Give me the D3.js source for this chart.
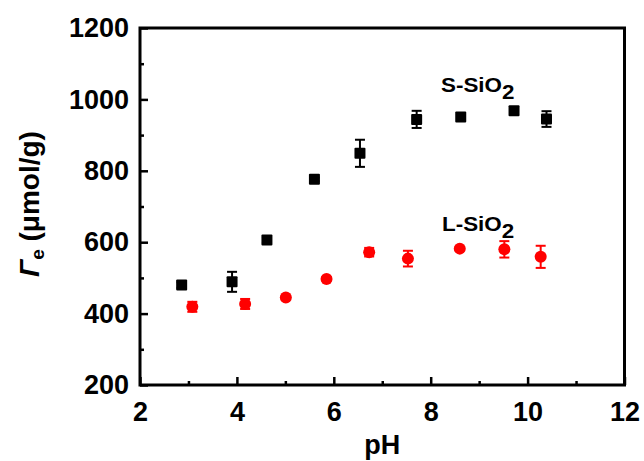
<!DOCTYPE html>
<html>
<head>
<meta charset="utf-8">
<script src="https://cdn.jsdelivr.net/npm/d3@7"></script>
<style>
  body { margin: 0; background: #fff; }
  svg { display: block; }
  text { font-family: "Liberation Sans", Arial, sans-serif; font-weight: bold; }
</style>
</head>
<body>
<svg id="chart" width="644" height="461"></svg>
<script>
// ---- data ----
const sPH   = [2.86, 3.90, 4.62, 5.60, 6.54, 7.71, 8.62, 9.72, 10.39];
const sVal  = [480, 489, 606, 776, 849, 944, 951, 968, 945];
const sErr  = [8, 28, 8, 5, 38, 24, 0, 10, 22];

const lPH   = [3.08, 4.17, 5.01, 5.85, 6.73, 7.53, 8.60, 9.52, 10.27];
const lVal  = [419, 427, 445, 497, 572, 554, 582, 580, 559];
const lErr  = [14, 14, 5, 5, 12, 22, 5, 23, 31];

const xTicks = [2, 4, 6, 8, 10, 12];
const yTicks = [200, 400, 600, 800, 1000, 1200];

// ---- layout ----
const svg = d3.select("#chart");
const L = 140, R = 624.5, T = 28, B = 385;
const x = d3.scaleLinear().domain([2, 12]).range([L, R]);
const y = d3.scaleLinear().domain([200, 1200]).range([B, T]);

// minor ticks
const g = svg.append("g");
g.append("g").attr("transform", `translate(0,${B})`)
  .call(d3.axisBottom(x).tickValues(d3.range(3, 12, 2)).tickSize(-4).tickFormat(""))
  .call(a => a.select(".domain").remove())
  .call(a => a.selectAll("line").attr("stroke", "#000").attr("stroke-width", 2.5));
g.append("g").attr("transform", `translate(${L},0)`)
  .call(d3.axisLeft(y).tickValues(d3.range(300, 1200, 200)).tickSize(-4).tickFormat(""))
  .call(a => a.select(".domain").remove())
  .call(a => a.selectAll("line").attr("stroke", "#000").attr("stroke-width", 2.5));

// major ticks
const xa = g.append("g").attr("transform", `translate(0,${B})`)
  .call(d3.axisBottom(x).tickValues(xTicks).tickSize(-8).tickPadding(17).tickFormat(d3.format("d")));
xa.select(".domain").remove();
xa.selectAll("line").attr("stroke", "#000").attr("stroke-width", 2.5);
xa.selectAll("text").attr("font-size", 27).attr("fill", "#000")
  .attr("font-family", '"Liberation Sans", Arial, sans-serif').attr("font-weight", "bold");

const ya = g.append("g").attr("transform", `translate(${L},0)`)
  .call(d3.axisLeft(y).tickValues(yTicks).tickSize(-8).tickPadding(11).tickFormat(d3.format("d")));
ya.select(".domain").remove();
ya.selectAll("line").attr("stroke", "#000").attr("stroke-width", 2.5);
ya.selectAll("text").attr("font-size", 27).attr("fill", "#000")
  .attr("font-family", '"Liberation Sans", Arial, sans-serif').attr("font-weight", "bold");

// frame
svg.append("rect").attr("x", L).attr("y", T).attr("width", R - L).attr("height", B - T)
  .attr("fill", "none").attr("stroke", "#000").attr("stroke-width", 3);

// series drawing
function series(ph, val, err, color, shape) {
  const data = ph.map((p, i) => ({p, v: val[i], e: err[i]}));
  const gg = svg.append("g");
  const eb = gg.selectAll("g.eb").data(data.filter(d => d.e > 0)).join("g")
    .attr("stroke", color).attr("stroke-width", 2);
  eb.append("line").attr("x1", d => x(d.p)).attr("x2", d => x(d.p))
    .attr("y1", d => y(d.v + d.e)).attr("y2", d => y(d.v - d.e));
  eb.append("line").attr("x1", d => x(d.p) - 5).attr("x2", d => x(d.p) + 5)
    .attr("y1", d => y(d.v + d.e)).attr("y2", d => y(d.v + d.e));
  eb.append("line").attr("x1", d => x(d.p) - 5).attr("x2", d => x(d.p) + 5)
    .attr("y1", d => y(d.v - d.e)).attr("y2", d => y(d.v - d.e));
  if (shape === "square") {
    gg.selectAll("rect").data(data).join("rect")
      .attr("x", d => x(d.p) - 5.5).attr("y", d => y(d.v) - 5.5)
      .attr("width", 11).attr("height", 11).attr("rx", 1).attr("fill", color);
  } else {
    gg.selectAll("circle").data(data).join("circle")
      .attr("cx", d => x(d.p)).attr("cy", d => y(d.v)).attr("r", 6).attr("fill", color);
  }
}
series(sPH, sVal, sErr, "#000", "square");
series(lPH, lVal, lErr, "#ff0000", "circle");

// labels
function label(xp, yp, main) {
  const t = svg.append("text").attr("transform", `translate(${xp},${yp}) scale(1.12,1)`)
    .attr("font-size", 20).attr("fill", "#000");
  t.append("tspan").text(main);
  t.append("tspan").attr("dy", 7).text("2");
}
label(441, 92, "S-SiO");
label(442, 231, "L-SiO");

// axis titles
svg.append("text").attr("x", (L + R) / 2).attr("y", 454).attr("text-anchor", "middle")
  .attr("font-size", 27).attr("fill", "#000").text("pH");

const yt = svg.append("text").attr("transform", "translate(39,204) rotate(-90)")
  .attr("text-anchor", "middle").attr("font-size", 28).attr("fill", "#000");
yt.append("tspan").attr("font-style", "italic").text("Γ");
yt.append("tspan").attr("font-size", 19).attr("dy", 5).text("e");
yt.append("tspan").attr("dy", -5).text(" (μmol/g)");
</script>
</body>
</html>
